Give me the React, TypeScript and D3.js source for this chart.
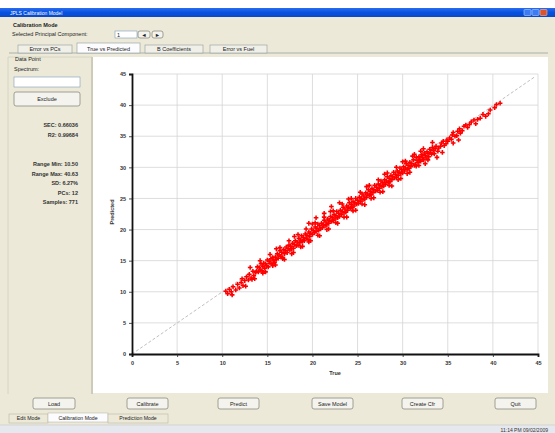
import React, { useEffect, useRef } from 'react';
import * as d3 from 'd3';

// [true, predicted] pairs: core of the band
const calibrationSamples: [number, number][] = [
  [10.4, 10.1], [10.6, 9.7], [10.8, 10.4], [11.0, 10.0], [11.2, 10.8], [11.1, 9.5], [11.5, 10.3],
  [11.7, 11.2], [11.9, 10.6], [12.1, 11.5], [12.3, 11.0], [12.2, 12.1], [12.5, 11.8], [12.7, 12.4],
  [12.9, 11.9], [13.0, 12.8], [13.2, 12.2], [13.4, 13.3], [13.5, 12.6], [13.7, 13.1],
  [13.8, 13.3], [13.9, 14.0], [14.0, 13.2], [14.1, 13.9], [14.2, 13.5], [14.3, 14.5], [14.4, 13.4],
  [14.5, 14.1], [14.6, 14.6], [14.7, 13.8], [14.8, 14.5], [14.9, 14.2], [15.0, 15.1], [15.1, 14.0],
  [15.2, 14.9], [15.3, 14.6], [15.4, 15.3], [15.5, 14.5], [15.6, 15.5], [15.7, 15.0], [15.8, 14.7],
  [15.9, 15.6], [16.0, 15.2], [16.1, 16.1], [16.2, 15.4], [16.3, 15.9], [16.4, 16.6], [16.5, 15.7],
  [16.6, 16.3], [16.7, 15.5], [16.8, 16.8], [16.9, 16.1], [17.0, 16.6], [17.1, 17.2], [17.2, 16.3],
  [17.3, 16.9], [17.4, 17.5], [17.5, 16.7], [17.6, 17.3], [17.7, 16.9], [17.8, 17.8], [17.9, 17.0],
  [18.0, 17.6], [18.1, 18.2], [18.2, 17.4], [18.3, 18.0], [18.4, 17.5], [18.5, 18.6], [18.6, 17.9],
  [18.7, 18.3], [18.8, 19.0], [18.9, 18.1], [19.0, 18.7], [19.1, 18.2], [19.2, 19.3], [19.3, 18.6],
  [19.4, 19.1], [19.5, 18.4], [19.6, 19.6], [19.7, 18.9], [19.8, 19.4], [19.9, 20.1], [20.0, 19.2],
  [20.4, 21.9], [21.3, 22.6], [22.1, 23.7], [23.0, 24.3], [19.6, 21.0],
  [20.1, 19.8], [20.2, 19.5], [20.3, 20.4], [20.4, 19.7], [20.5, 20.2], [20.6, 20.9], [20.7, 19.9],
  [20.8, 20.6], [20.9, 20.1], [21.0, 21.0], [21.1, 20.3], [21.2, 20.8], [21.3, 21.5], [21.4, 20.6],
  [21.5, 21.2], [21.6, 20.8], [21.7, 21.7], [21.8, 21.0], [21.9, 21.5], [22.0, 22.1], [22.1, 21.3],
  [22.2, 21.9], [22.3, 21.4], [22.4, 22.4], [22.5, 21.7], [22.6, 22.2], [22.7, 22.9], [22.8, 21.9],
  [22.9, 22.6], [23.0, 22.1], [23.1, 23.1], [23.2, 22.4], [23.3, 22.9], [23.4, 23.6], [23.5, 22.7],
  [23.6, 23.3], [23.7, 22.8], [23.8, 23.8], [23.9, 23.1], [24.0, 23.6], [24.1, 24.3], [24.2, 23.4],
  [24.3, 24.0], [24.4, 23.5], [24.5, 24.5], [24.6, 23.8], [24.7, 24.3], [24.8, 25.0], [24.9, 24.1],
  [25.0, 24.7], [25.1, 24.2], [25.2, 25.2], [25.3, 24.5], [25.4, 25.0], [25.5, 25.7], [25.6, 24.8],
  [25.7, 25.4], [25.8, 24.9], [25.9, 25.9], [26.0, 25.2], [26.1, 25.7], [26.2, 26.4], [26.3, 25.5],
  [26.4, 26.1], [26.5, 25.6], [26.6, 26.6], [26.7, 25.9], [26.8, 26.4], [26.9, 27.1], [27.0, 26.2],
  [27.1, 26.8], [27.2, 26.3], [27.3, 27.3], [27.4, 26.6], [27.5, 27.1], [27.6, 27.8], [27.7, 26.9],
  [27.8, 27.5], [27.9, 27.0], [28.0, 28.0], [28.1, 27.3], [28.2, 27.8], [28.3, 28.5], [28.4, 27.6],
  [28.5, 28.2], [28.6, 27.7], [28.7, 28.7], [28.8, 28.0], [28.9, 28.5], [29.0, 29.2], [29.1, 28.3],
  [29.2, 28.9], [29.3, 28.4], [29.4, 29.4], [29.5, 28.7], [29.6, 29.2], [29.7, 29.9], [29.8, 29.0],
  [29.9, 29.6], [30.0, 29.1], [30.1, 30.1], [30.2, 29.4], [30.3, 29.9], [30.4, 30.6], [30.5, 29.7],
  [30.6, 30.3], [30.7, 29.8], [30.8, 30.8], [30.9, 30.1], [31.0, 30.6], [31.2, 31.2], [31.4, 30.5],
  [31.6, 31.1], [31.8, 31.7], [32.0, 31.0], [32.2, 31.6], [32.4, 32.3], [32.6, 31.5], [32.8, 32.2],
  [33.0, 32.9], [33.2, 32.1], [33.4, 32.7],
  [33.8, 31.6], [34.4, 32.4], [32.5, 30.6], [35.6, 33.9], [36.2, 34.4],
  [33.7, 33.4], [34.0, 33.1], [34.3, 33.9], [34.6, 33.5], [34.9, 34.4], [35.2, 34.7], [35.5, 35.2],
  [35.8, 35.0], [36.1, 35.8], [36.4, 35.5], [36.8, 36.6], [37.2, 36.4], [37.6, 37.3], [38.1, 37.0],
  [38.6, 37.9], [39.2, 38.2], [39.5, 38.6], [40.2, 39.6], [40.8, 40.3],
];

// wider halo of the band
const haloSamples: [number, number][] = [
  [12.6, 10.9], [13.1, 13.9], [13.6, 12.1], [14.2, 15.0], [14.8, 13.2], [15.3, 16.0], [15.9, 14.3],
  [16.4, 17.1], [16.9, 15.2], [17.4, 18.2], [17.9, 16.3], [18.4, 19.2], [18.9, 17.3], [19.3, 20.1],
  [19.8, 18.2], [20.3, 21.1], [20.8, 19.0], [21.3, 22.0], [21.8, 20.1], [22.3, 23.0], [22.8, 21.0],
  [23.3, 24.1], [23.8, 22.0], [24.3, 25.0], [24.8, 23.1], [25.3, 26.0], [25.8, 24.0], [26.3, 27.1],
  [26.8, 25.1], [27.3, 28.0], [27.8, 26.1], [28.3, 29.1], [28.8, 27.0], [29.3, 30.0], [29.8, 28.2],
  [30.3, 31.0], [30.8, 29.2], [31.3, 32.1], [31.8, 30.3], [32.3, 33.0], [32.8, 31.2], [33.3, 34.0],
  [13.3, 12.0], [14.5, 13.0], [15.6, 14.2], [16.7, 15.3], [17.7, 16.1], [18.7, 17.2], [19.6, 18.0],
  [20.6, 19.1], [21.6, 20.0], [22.6, 21.1], [23.5, 22.0], [24.5, 23.0], [25.5, 24.1], [26.5, 25.0],
  [27.5, 26.0], [28.5, 27.1], [29.5, 28.0], [30.5, 29.0], [31.5, 30.2],
  [16.0, 16.9], [18.0, 18.9], [20.0, 20.9], [22.0, 22.9], [24.0, 24.9], [26.0, 26.9], [28.0, 28.9],
  [30.0, 30.9], [32.0, 32.6],
  [31.1, 31.8], [31.3, 30.3], [31.5, 31.6], [31.7, 30.8], [31.9, 31.3], [32.1, 32.0], [32.3, 31.2],
  [32.5, 31.9], [32.7, 32.5], [32.9, 31.7], [33.1, 32.4], [33.3, 33.2], [33.5, 32.2], [33.6, 33.0],
  [33.9, 32.6], [34.2, 33.4], [34.5, 34.2], [34.8, 33.8], [35.0, 34.2], [35.4, 34.5], [35.6, 35.6],
  [36.0, 35.1], [36.3, 36.2], [36.6, 35.9], [37.0, 36.8], [37.4, 36.9], [37.9, 37.6], [38.3, 37.7],
  [38.9, 38.5], [39.7, 39.2], [40.4, 40.1],
];

const axisTicks = [0, 5, 10, 15, 20, 25, 30, 35, 40, 45];
const chartTabs = ['Error vs PCs', 'True vs Predicted', 'B Coefficients', 'Error vs Fuel'];
const statLinesA = ['SEC: 0.66036', 'R2: 0.99684'];
const statLinesB = ['Range Min: 10.50', 'Range Max: 40.63', 'SD: 6.27%', 'PCs: 12', 'Samples: 771'];
const bottomButtons = ['Load', 'Calibrate', 'Predict', 'Save Model', 'Create Cfr', 'Quit'];
const modeTabs = ['Edit Mode', 'Calibration Mode', 'Prediction Mode'];

const FONT = 'Liberation Sans, Arial, sans-serif';
const BG = '#ece9d8';

const Button = ({ x, y, w, h, label }: { x: number; y: number; w: number; h: number; label: string }) => (
  <g>
    <rect x={x} y={y} width={w} height={h} rx={2} fill="#f4f3ee" stroke="#8a8a80" strokeWidth={0.8} />
    <text x={x + w / 2} y={y + h / 2 + 2} textAnchor="middle" fontSize={5.5} fontFamily={FONT} fill="#222">
      {label}
    </text>
  </g>
);

export default function App() {
  const chartRef = useRef<SVGGElement>(null);

  useEffect(() => {
    if (!chartRef.current) return;
    const g = d3.select(chartRef.current);
    g.selectAll('*').remove();

    const x = d3.scaleLinear().domain([0, 45]).range([132, 538]);
    const y = d3.scaleLinear().domain([0, 45]).range([354, 74]);

    // grid
    g.append('g')
      .selectAll('line')
      .data(axisTicks.slice(1))
      .enter()
      .append('line')
      .attr('x1', d => x(d)).attr('x2', d => x(d))
      .attr('y1', y(0)).attr('y2', y(45))
      .attr('stroke', '#d4d4d4').attr('stroke-width', 0.8);
    g.append('g')
      .selectAll('line')
      .data(axisTicks.slice(1))
      .enter()
      .append('line')
      .attr('x1', x(0)).attr('x2', x(45))
      .attr('y1', d => y(d)).attr('y2', d => y(d))
      .attr('stroke', '#d4d4d4').attr('stroke-width', 0.8);

    // ideal line
    g.append('line')
      .attr('x1', x(0)).attr('y1', y(0))
      .attr('x2', x(44.6)).attr('y2', y(44.5))
      .attr('stroke', '#b8b8b8').attr('stroke-width', 0.9)
      .attr('stroke-dasharray', '3,2');

    // points
    const cross = d3.symbol().type(d3.symbolCross).size(12);
    g.append('g')
      .selectAll('path')
      .data([...haloSamples, ...calibrationSamples])
      .enter()
      .append('path')
      .attr('d', cross)
      .attr('transform', d => `translate(${x(d[0])},${y(d[1])})`)
      .attr('fill', '#ff0000');

    // axes
    const xAxis = d3.axisBottom(x).tickValues(axisTicks).tickSize(3).tickFormat(d3.format('d'));
    const yAxis = d3.axisLeft(y).tickValues(axisTicks).tickSize(3).tickFormat(d3.format('d'));
    const gx = g.append('g').attr('transform', `translate(0,${y(0)})`).call(xAxis);
    const gy = g.append('g').attr('transform', `translate(${x(0)},0)`).call(yAxis);
    [gx, gy].forEach(a => {
      a.select('.domain').attr('stroke', '#111').attr('stroke-width', 1.8);
      a.selectAll('.tick line').attr('stroke', '#222').attr('stroke-width', 0.8);
      a.selectAll('.tick text')
        .attr('font-size', 5.5).attr('font-family', FONT).attr('font-weight', 'bold').attr('fill', '#333');
    });
    gx.selectAll('.tick text').attr('dy', '0.9em');

    g.append('text')
      .attr('x', 335).attr('y', 375)
      .attr('text-anchor', 'middle')
      .attr('font-size', 5.5).attr('font-family', FONT).attr('font-weight', 'bold').attr('fill', '#333')
      .text('True');
    g.append('text')
      .attr('transform', `translate(114,212) rotate(-90)`)
      .attr('text-anchor', 'middle')
      .attr('font-size', 5.5).attr('font-family', FONT).attr('font-weight', 'bold').attr('fill', '#333')
      .text('Predicted');
  }, []);

  const tabX = [18, 77, 145, 210];
  const tabW = [54, 63, 58, 57];
  const btnX = [33, 127, 218, 312, 402, 495];
  const modeX = [9, 48, 108];
  const modeW = [39, 60, 60];

  return (
    <svg width={555} height={433} style={{ position: 'absolute', left: 0, top: 0, background: BG }}>
      <defs>
        <linearGradient id="titleGrad" x1="0" x2="0" y1="0" y2="1">
          <stop offset="0%" stopColor="#2a6cf0" />
          <stop offset="50%" stopColor="#0552e0" />
          <stop offset="100%" stopColor="#0a48c8" />
        </linearGradient>
      </defs>
      <rect x={0} y={0} width={555} height={433} fill={BG} />
      <rect x={0} y={0} width={555} height={8} fill="#ffffff" />
      {/* title bar */}
      <rect x={0} y={8} width={555} height={9} fill="url(#titleGrad)" />
      <text x={10} y={14.5} fontSize={5} fontFamily={FONT} fill="#fff">JPLS Calibration Model</text>
      <rect x={524} y={9.5} width={7} height={6} rx={1} fill="#3b7bf3" stroke="#cfe0ff" strokeWidth={0.5} />
      <rect x={532} y={9.5} width={7} height={6} rx={1} fill="#3b7bf3" stroke="#cfe0ff" strokeWidth={0.5} />
      <rect x={540} y={9.5} width={7} height={6} rx={1} fill="#d9532c" stroke="#ffd0c0" strokeWidth={0.5} />

      {/* header */}
      <text x={13} y={27} fontSize={5.5} fontFamily={FONT} fontWeight="bold" fill="#222">Calibration Mode</text>
      <text x={12} y={35.5} fontSize={5.5} fontFamily={FONT} fill="#222">Selected Principal Component:</text>
      <rect x={115} y={31} width={22} height={7} fill="#fff" stroke="#7f9db9" strokeWidth={0.6} />
      <text x={117} y={36.5} fontSize={5.5} fontFamily={FONT} fill="#222">1</text>
      <Button x={138} y={31} w={12} h={7} label="◄" />
      <Button x={152} y={31} w={11} h={7} label="►" />

      {/* chart tabs */}
      <line x1={9} x2={548} y1={53} y2={53} stroke="#919b9c" strokeWidth={0.7} />
      {chartTabs.map((t, i) => (
        <g key={t}>
          <rect x={tabX[i]} y={i === 1 ? 43 : 45} width={tabW[i]} height={i === 1 ? 10 : 8}
            fill={i === 1 ? '#fcfcfe' : '#f0efe8'} stroke="#919b9c" strokeWidth={0.6} />
          <text x={tabX[i] + tabW[i] / 2} y={50.5} textAnchor="middle" fontSize={5.5} fontFamily={FONT} fill="#222">{t}</text>
        </g>
      ))}

      {/* left panel */}
      <line x1={8} x2={8} y1={57} y2={394} stroke="#d0d0bf" strokeWidth={0.8} />
      <line x1={92} x2={92} y1={57} y2={394} stroke="#a0a090" strokeWidth={0.8} />
      <line x1={8} x2={92} y1={57} y2={57} stroke="#d0d0bf" strokeWidth={0.8} />
      <text x={15} y={61} fontSize={5.5} fontFamily={FONT} fill="#222">Data Point</text>
      <text x={14} y={71} fontSize={5.5} fontFamily={FONT} fill="#222">Spectrum:</text>
      <rect x={14} y={77} width={66} height={10} fill="#fff" stroke="#7f9db9" strokeWidth={0.6} />
      <Button x={14} y={92} w={66} h={14} label="Exclude" />
      {statLinesA.map((s, i) => (
        <text key={s} x={78} y={127 + i * 9.5} textAnchor="end" fontSize={5.5} fontFamily={FONT} fontWeight="bold" fill="#333">{s}</text>
      ))}
      {statLinesB.map((s, i) => (
        <text key={s} x={78} y={166 + i * 9.6} textAnchor="end" fontSize={5.5} fontFamily={FONT} fontWeight="bold" fill="#333">{s}</text>
      ))}

      {/* chart panel */}
      <rect x={93} y={57} width={455} height={336} fill="#ffffff" />
      <g ref={chartRef} />

      {/* bottom buttons */}
      {bottomButtons.map((b, i) => (
        <Button key={b} x={btnX[i]} y={398} w={i === 0 ? 42 : 41} h={11} label={b} />
      ))}

      {/* mode tabs */}
      {modeTabs.map((m, i) => (
        <g key={m}>
          <rect x={modeX[i]} y={i === 1 ? 413 : 414} width={modeW[i]} height={9}
            fill={i === 1 ? '#fcfcfe' : BG} stroke="#b0b0a0" strokeWidth={0.5} />
          <text x={modeX[i] + modeW[i] / 2} y={420} textAnchor="middle" fontSize={5.2} fontFamily={FONT} fill="#222">{m}</text>
        </g>
      ))}

      {/* status bar */}
      <rect x={0} y={425} width={555} height={8} fill="#e6e8ef" />
      <line x1={0} x2={555} y1={425} y2={425} stroke="#c8c8c0" strokeWidth={0.6} />
      <text x={548} y={431.5} textAnchor="end" fontSize={5} fontFamily={FONT} fill="#333">11:14 PM 09/02/2009</text>
    </svg>
  );
}
